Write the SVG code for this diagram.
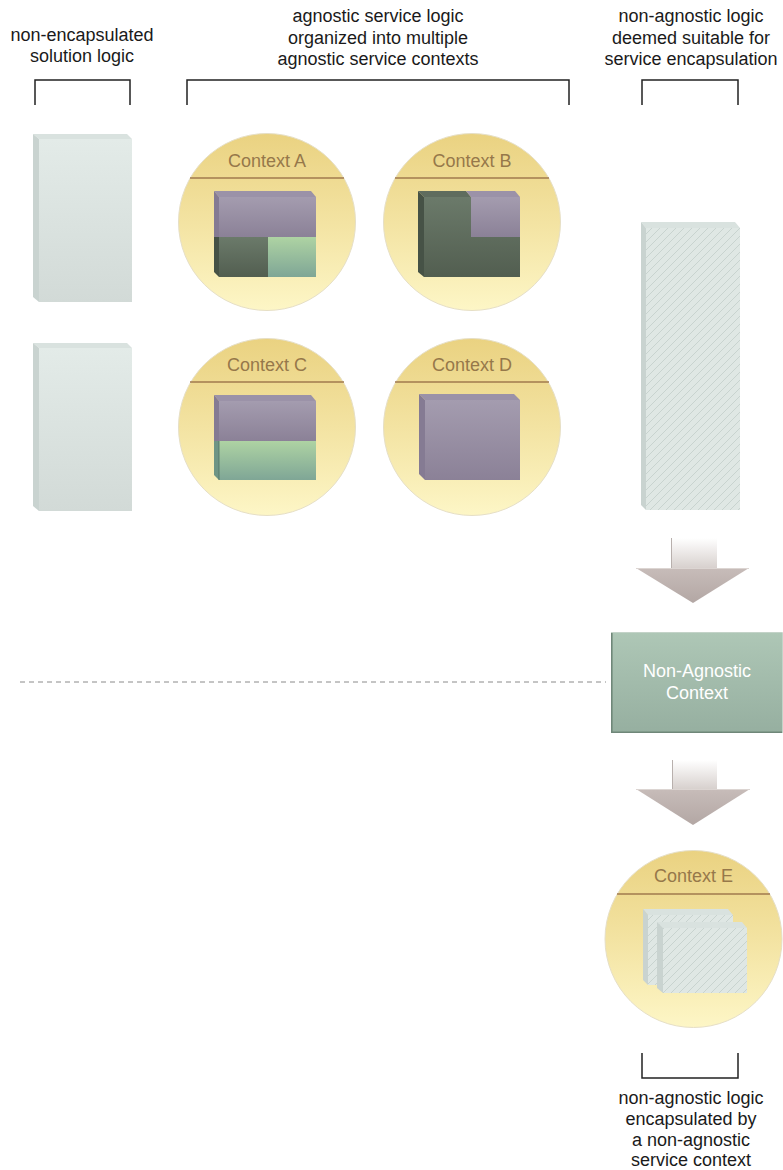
<svg xmlns="http://www.w3.org/2000/svg" width="783" height="1170" viewBox="0 0 783 1170">
<style>
.t{font-family:"Liberation Sans",Arial,sans-serif;font-size:18px;fill:#1a1a1a;text-anchor:middle}
.ctx{font-family:"Liberation Sans",Arial,sans-serif;font-size:18px;fill:#96784a;text-anchor:middle}
.wt{font-family:"Liberation Sans",Arial,sans-serif;font-size:18px;fill:#ffffff;text-anchor:middle}
.br{fill:none;stroke:#222;stroke-width:1.5}
.circ{fill:url(#gCirc);stroke:#e6dfc6;stroke-width:1}
.chord{stroke:#a07a4e;stroke-width:1.6}
.pf{fill:url(#gPurple)}
.pt{fill:#9b92a8}
.pl{fill:#857b93}
.df{fill:url(#gDark)}
.dt{fill:#5f6c5e}
.dl{fill:#465246}
.lf{fill:url(#gLight)}
.ll{fill:#6f9585}
.gf{fill:url(#gGrey)}
.gt{fill:#d9e2df}
.gl{fill:#c9d3d0}
.hatch{fill:url(#hatch)}
</style>
<defs>
<linearGradient id="gCirc" x1="0" y1="0" x2="0" y2="1">
<stop offset="0" stop-color="#ead281"/>
<stop offset="0.5" stop-color="#f3e3a2"/>
<stop offset="1" stop-color="#fdf6c6"/>
</linearGradient>
<linearGradient id="gPurple" x1="0" y1="0" x2="0" y2="1">
<stop offset="0" stop-color="#a49caf"/>
<stop offset="1" stop-color="#8b8197"/>
</linearGradient>
<linearGradient id="gDark" x1="0" y1="0" x2="0" y2="1">
<stop offset="0" stop-color="#6b7a6a"/>
<stop offset="1" stop-color="#525e50"/>
</linearGradient>
<linearGradient id="gLight" x1="0" y1="0" x2="0" y2="1">
<stop offset="0" stop-color="#aed3a3"/>
<stop offset="1" stop-color="#7fa696"/>
</linearGradient>
<linearGradient id="gGrey" x1="0" y1="0" x2="0" y2="1">
<stop offset="0" stop-color="#e3ebe8"/>
<stop offset="1" stop-color="#d2dad7"/>
</linearGradient>
<linearGradient id="gShaft" x1="0" y1="0" x2="0" y2="1">
<stop offset="0" stop-color="#ffffff"/>
<stop offset="1" stop-color="#d6cfcc"/>
</linearGradient>
<linearGradient id="gHead" x1="0" y1="0" x2="0" y2="1">
<stop offset="0" stop-color="#c7bcb9"/>
<stop offset="1" stop-color="#b3a7a4"/>
</linearGradient>
<linearGradient id="gNA" x1="0" y1="0" x2="0" y2="1">
<stop offset="0" stop-color="#aec7b6"/>
<stop offset="1" stop-color="#96afa0"/>
</linearGradient>
<pattern id="hatch" patternUnits="userSpaceOnUse" width="8" height="8">
<rect width="8" height="8" fill="#dfe7e4"/>
<path d="M-1,1 L1,-1 M0,8 L8,0 M7,9 L9,7" stroke="#bfcac6" stroke-width="0.7"/>
</pattern>
</defs>
<rect width="783" height="1170" fill="#ffffff"/>

<g id="label-nonencapsulated">
<text class="t" x="82" y="41">non-encapsulated</text>
<text class="t" x="82" y="62">solution logic</text>
<path class="br" d="M35,105 V80 H130 V105"/>
</g>
<g id="label-agnostic">
<text class="t" x="378" y="22">agnostic service logic</text>
<text class="t" x="378" y="44">organized into multiple</text>
<text class="t" x="378" y="65">agnostic service contexts</text>
<path class="br" d="M187,105 V80 H569 V105"/>
</g>
<g id="label-nonagnostic-suitable">
<text class="t" x="691" y="22">non-agnostic logic</text>
<text class="t" x="691" y="44">deemed suitable for</text>
<text class="t" x="691" y="65">service encapsulation</text>
<path class="br" d="M642,105 V80 H738 V105"/>
</g>

<g id="logic-1">
<polygon class="gt" points="33,134 127,134 132,139 39,139"/>
<polygon class="gl" points="33,134 39,139 39,302 33,297"/>
<rect class="gf" x="39" y="139" width="93" height="163"/>
</g>
<g id="logic-2">
<polygon class="gt" points="33,343 127,343 132,348 39,348"/>
<polygon class="gl" points="33,343 39,348 39,511 33,506"/>
<rect class="gf" x="39" y="348" width="93" height="163"/>
</g>

<g id="context-a">
<circle class="circ" cx="267" cy="222" r="88.5"/>
<line class="chord" x1="190" y1="178" x2="344" y2="178"/>
<text class="ctx" x="267" y="167">Context A</text>
<polygon class="pt" points="214,191 311,191 316,197 219,197"/>
<polygon class="pl" points="214,191 219,197 219,237 214,237"/>
<polygon class="dl" points="214,237 219,237 219,277 214,272"/>
<rect class="pf" x="219" y="197" width="97" height="40"/>
<rect class="df" x="219" y="237" width="49" height="40"/>
<rect class="lf" x="268" y="237" width="48" height="40"/>
</g>
<g id="context-b">
<circle class="circ" cx="472" cy="222" r="88.5"/>
<line class="chord" x1="395" y1="178" x2="549" y2="178"/>
<text class="ctx" x="472" y="167">Context B</text>
<polygon class="dt" points="418,191 466,191 471,197 424,197"/>
<polygon class="pt" points="466,191 515,191 520,197 471,197"/>
<polygon class="dl" points="418,191 424,197 424,277 418,272"/>
<rect class="df" x="424" y="197" width="96" height="80"/>
<rect class="pf" x="471" y="197" width="49" height="40"/>
</g>
<g id="context-c">
<circle class="circ" cx="267" cy="427" r="88.5"/>
<line class="chord" x1="190" y1="382" x2="344" y2="382"/>
<text class="ctx" x="267" y="371">Context C</text>
<polygon class="pt" points="214,395 311,395 316,401 219,401"/>
<polygon class="pl" points="214,395 219,401 219,441 214,441"/>
<polygon class="ll" points="214,441 219,441 219,480 214,475"/>
<rect class="pf" x="219" y="401" width="97" height="40"/>
<rect class="lf" x="219" y="441" width="97" height="39"/>
<line x1="219" y1="441" x2="219" y2="480" stroke="#4f6e62" stroke-width="0.8"/>
</g>
<g id="context-d">
<circle class="circ" cx="472" cy="427" r="88.5"/>
<line class="chord" x1="395" y1="382" x2="549" y2="382"/>
<text class="ctx" x="472" y="371">Context D</text>
<polygon class="pt" points="419,394 514,394 520,400 425,400"/>
<polygon class="pl" points="419,394 425,400 425,480 419,474"/>
<rect class="pf" x="425" y="400" width="95" height="80"/>
</g>

<g id="nonagnostic-logic">
<polygon class="gt" points="641,222 735,222 740,228 646,228"/>
<polygon class="gl" points="641,222 646,228 646,510 641,505"/>
<rect class="hatch" x="646" y="228" width="94" height="282"/>
</g>

<g id="connectors">
<line x1="20" y1="682" x2="606" y2="682" stroke="#8a8a8a" stroke-width="1" stroke-dasharray="5 4"/>
<g id="arrow-1">
<rect x="671" y="538" width="46" height="31" fill="url(#gShaft)"/>
<line x1="671.5" y1="538" x2="671.5" y2="569" stroke="#b8b0ad" stroke-width="1"/>
<polygon points="636,568 749,568 693,603" fill="url(#gHead)"/>
<line x1="636" y1="568.5" x2="749" y2="568.5" stroke="#dcd5d2" stroke-width="1"/>
</g>
<g id="arrow-2">
<rect x="672" y="760" width="45" height="30" fill="url(#gShaft)"/>
<line x1="672.5" y1="760" x2="672.5" y2="790" stroke="#b8b0ad" stroke-width="1"/>
<polygon points="636,789 750,789 693,825" fill="url(#gHead)"/>
<line x1="636" y1="789.5" x2="750" y2="789.5" stroke="#dcd5d2" stroke-width="1"/>
</g>
</g>

<g id="nonagnostic-context">
<rect x="611" y="632" width="171" height="101" fill="url(#gNA)"/>
<path d="M611.8,632 V732.2 H782" fill="none" stroke="#6f8779" stroke-width="1.6"/>
<path d="M611,632.5 H782.5 V733" fill="none" stroke="#c3d3c8" stroke-width="1"/>
<text class="wt" x="697" y="677">Non-Agnostic</text>
<text class="wt" x="697" y="699">Context</text>
</g>

<g id="context-e">
<circle class="circ" cx="693.5" cy="939" r="88.5"/>
<line class="chord" x1="617" y1="894" x2="770" y2="894"/>
<text class="ctx" x="693.5" y="882">Context E</text>
<polygon class="gt" points="643,909 728,909 733,915 648,915"/>
<polygon class="gl" points="643,909 648,915 648,985 643,980"/>
<rect class="hatch" x="648" y="915" width="85" height="70"/>
<polygon class="gt" points="657,922 742,922 747,928 663,928"/>
<polygon class="gl" points="657,922 663,928 663,993 657,988"/>
<rect class="hatch" x="663" y="928" width="84" height="65"/>
</g>

<g id="label-encapsulated">
<path class="br" d="M642,1053 V1078 H738 V1053"/>
<text class="t" x="691" y="1104">non-agnostic logic</text>
<text class="t" x="691" y="1125">encapsulated by</text>
<text class="t" x="691" y="1146">a non-agnostic</text>
<text class="t" x="691" y="1166">service context</text>
</g>
</svg>
